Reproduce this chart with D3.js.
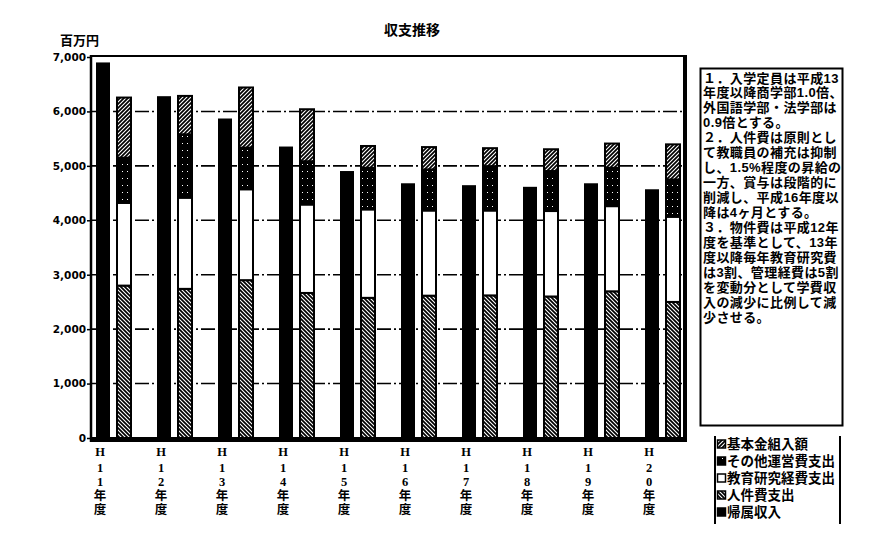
<!DOCTYPE html>
<html><head><meta charset="utf-8">
<script src="https://cdn.jsdelivr.net/npm/d3@7"></script>
<style>body{margin:0;background:#fff} svg{display:block}</style>
</head><body><svg id="c" width="872" height="555"></svg>
<script>
const categories = ["H11年度","H12年度","H13年度","H14年度","H15年度","H16年度","H17年度","H18年度","H19年度","H20年度"];
const income     = [6900, 6280, 5870, 5355, 4905, 4680, 4645, 4615, 4680, 4570]; // 帰属収入
const personnel  = [2800, 2740, 2900, 2665, 2575, 2615, 2620, 2600, 2695, 2500]; // 人件費支出
const education  = [1520, 1675, 1670, 1625, 1625, 1565, 1560, 1570, 1565, 1565]; // 教育研究経費支出
const otherOps   = [830, 1165, 765, 795, 765, 755, 815, 735, 705, 685];          // その他運営費支出
const endowment  = [1105, 705, 1105, 955, 400, 410, 330, 400, 445, 645];         // 基本金組入額
const yTicks = [0, 1000, 2000, 3000, 4000, 5000, 6000, 7000];
const legendLabels = ["基本金組入額","その他運営費支出","教育研究経費支出","人件費支出","帰属収入"];
const noteLines = [
  "１．入学定員は平成13",
  "年度以降商学部1.0倍、",
  "外国語学部・法学部は",
  "0.9倍とする。",
  "２．人件費は原則とし",
  "て教職員の補充は抑制",
  "し、1.5%程度の昇給の",
  "一方、賞与は段階的に",
  "削減し、平成16年度以",
  "降は4ヶ月とする。",
  "３．物件費は平成12年",
  "度を基準として、13年",
  "度以降毎年教育研究費",
  "は3割、管理経費は5割",
  "を変動分として学費収",
  "入の減少に比例して減",
  "少させる。"
];
const title = "収支推移";
const unitLabel = "百万円";

const svg = d3.select("#c");
const JP = "'Noto Sans CJK JP', sans-serif";
const JPc = "'Liberation Sans', 'Noto Sans CJK JP', sans-serif";

// patterns
const defs = svg.append("defs");
function hatch(id, d) {
  const p = defs.append("pattern").attr("id", id).attr("patternUnits", "userSpaceOnUse")
    .attr("width", 4).attr("height", 4);
  p.append("rect").attr("width", 4).attr("height", 4).attr("fill", "#000");
  p.append("path").attr("d", d).attr("stroke", "#fff").attr("stroke-width", 1.1);
}
hatch("pBack", "M-1,-1L5,5M3,-1L5,1M-1,3L1,5");
hatch("pFwd", "M-1,5L5,-1M-1,1L1,-1M3,5L5,3");
const pd = defs.append("pattern").attr("id", "pDot").attr("patternUnits", "userSpaceOnUse")
  .attr("width", 5).attr("height", 7);
pd.append("rect").attr("width", 5).attr("height", 7).attr("fill", "#000");
pd.append("rect").attr("x", 2).attr("y", 3).attr("width", 1).attr("height", 1).attr("fill", "#fff");

const keys = ["personnel", "education", "otherOps", "endowment"];
const fills = {personnel: "url(#pBack)", education: "#fff", otherOps: "url(#pDot)", endowment: "url(#pFwd)"};

const rows = categories.map((c, i) => ({cat: c, income: income[i], personnel: personnel[i],
  education: education[i], otherOps: otherOps[i], endowment: endowment[i]}));

const y = d3.scaleLinear().domain([0, 7000]).range([438, 57]);
const x0 = d3.scaleBand().domain(categories).range([94.5, 704.5]).paddingInner(0).paddingOuter(0);
const x1 = d3.scaleBand().domain(["income", "expense"]).range([1.5, 36.5]).paddingInner(1/3).paddingOuter(0);

const plotL = 91, plotR = 685;

// gridlines
svg.append("g").selectAll("line").data(yTicks.filter(t => t > 0 && t < 7000)).join("line")
  .attr("x1", plotL).attr("x2", plotR).attr("y1", d => y(d)).attr("y2", d => y(d))
  .attr("stroke", "#000").attr("stroke-width", 1.6).attr("stroke-dasharray", "14,3,2,3");

// income bars
svg.append("g").selectAll("rect").data(rows).join("rect")
  .attr("x", d => x0(d.cat) + x1("income")).attr("width", x1.bandwidth())
  .attr("y", d => y(d.income)).attr("height", d => y(0) - y(d.income))
  .attr("fill", "#000");

// stacked expense bars
const stack = d3.stack().keys(keys)(rows);
svg.append("g").selectAll("g").data(stack).join("g")
  .attr("fill", d => fills[d.key])
  .selectAll("rect").data(d => d).join("rect")
  .attr("x", d => x0(d.data.cat) + x1("expense")).attr("width", x1.bandwidth())
  .attr("y", d => y(d[1])).attr("height", d => y(d[0]) - y(d[1]))
  .attr("stroke", "#000").attr("stroke-width", 2);

// frame
svg.append("line").attr("x1", plotL).attr("x2", plotR).attr("y1", 56).attr("y2", 56)
  .attr("stroke", "#000").attr("stroke-width", 2);
svg.append("line").attr("x1", plotL).attr("x2", plotL).attr("y1", 55).attr("y2", 442)
  .attr("stroke", "#000").attr("stroke-width", 2.5);
svg.append("line").attr("x1", plotR).attr("x2", plotR).attr("y1", 55).attr("y2", 442)
  .attr("stroke", "#000").attr("stroke-width", 4);
svg.append("line").attr("x1", plotL).attr("x2", plotR + 2).attr("y1", 439.5).attr("y2", 439.5)
  .attr("stroke", "#000").attr("stroke-width", 5);

// y axis
const ax = svg.append("g").attr("transform", `translate(${plotL},0)`)
  .call(d3.axisLeft(y).tickValues(yTicks).tickFormat(d3.format(",")).tickSize(4).tickPadding(1));
ax.select(".domain").remove();
ax.selectAll(".tick line").attr("stroke", "#000").attr("stroke-width", 1.5);
ax.selectAll(".tick text").attr("font-family", "'DejaVu Sans', sans-serif").attr("font-weight", "bold")
  .attr("font-size", 10.5).attr("fill", "#000");

// x labels (vertical, one text element per category)
const charY = [451, 467, 481, 495, 509];
const xl = svg.append("g").selectAll("text").data(categories).join("text")
  .attr("text-anchor", "middle")
  .attr("font-family", "'Liberation Serif', 'Noto Sans CJK JP', serif").attr("font-weight", "bold")
  .attr("font-size", 12.5);
xl.selectAll("tspan").data(d => Array.from(d).map(ch => ({ch, cat: d}))).join("tspan")
  .attr("x", d => x0(d.cat) + 5.5).attr("y", (d, i) => charY[i] + 5).text(d => d.ch);

// title & unit
svg.append("text").attr("x", 412).attr("y", 29).attr("text-anchor", "middle")
  .attr("dominant-baseline", "central").attr("font-family", JP).attr("font-weight", "bold")
  .attr("font-size", 14).text(title);
svg.append("text").attr("x", 60).attr("y", 39).attr("dominant-baseline", "central")
  .attr("font-family", JP).attr("font-weight", "bold").attr("font-size", 13).text(unitLabel);

// note box (wrapped text)
svg.append("rect").attr("x", 700.5).attr("y", 68.5).attr("width", 142).attr("height", 357)
  .attr("fill", "none").attr("stroke", "#000").attr("stroke-width", 2);
svg.append("text").attr("font-family", JPc).attr("font-weight", "bold").attr("font-size", 13)
  .attr("letter-spacing", 0.4)
  .selectAll("tspan").data(noteLines).join("tspan")
  .attr("x", 703).attr("y", (d, i) => 82.5 + i * 14.95).text(d => d);

// legend
svg.append("line").attr("x1", 715).attr("x2", 715).attr("y1", 436).attr("y2", 524).attr("stroke", "#000").attr("stroke-width", 2);
svg.append("line").attr("x1", 840).attr("x2", 840).attr("y1", 436).attr("y2", 524).attr("stroke", "#000").attr("stroke-width", 2);
const legFills = ["url(#pFwd)", "url(#pDot)", "#fff", "url(#pBack)", "#000"];
svg.append("g").selectAll("rect").data(legendLabels).join("rect")
  .attr("x", 717.5).attr("y", (d, i) => 440 + i * 17).attr("width", 8).attr("height", 8)
  .attr("fill", (d, i) => legFills[i]).attr("stroke", "#000").attr("stroke-width", 1.5);
svg.append("text").attr("font-family", JPc).attr("font-weight", "bold").attr("font-size", 13.5)
  .selectAll("tspan").data(legendLabels).join("tspan")
  .attr("x", 727).attr("y", (d, i) => 449 + i * 17).text(d => d);
</script></body></html>
